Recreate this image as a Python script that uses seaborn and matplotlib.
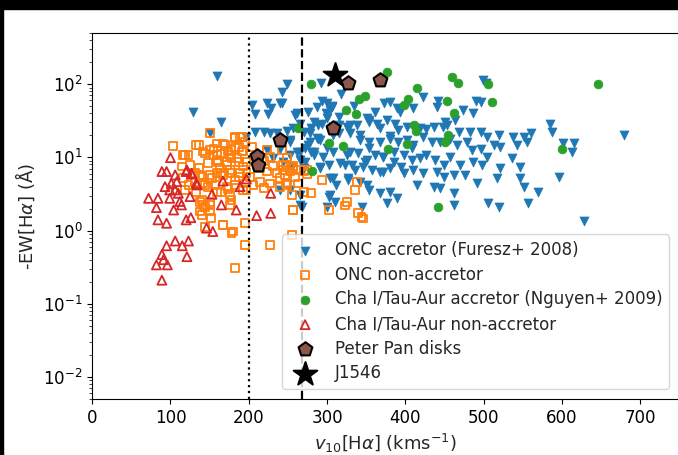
import matplotlib
matplotlib.use("Agg")
import matplotlib.pyplot as plt
from matplotlib.patches import Rectangle
import seaborn as sns

# ONC accretors (Furesz+ 2008)
onc_acc_v = [129, 165, 150, 204, 208, 225, 223, 240, 229, 159, 197, 219, 208, 227, 236, 223, 240, 231, 240,
             259, 276, 257, 280, 287, 276, 280, 253, 261, 244, 265, 268, 253,
             249, 292, 318, 499, 503, 243, 242, 293, 300, 306, 287, 304, 298, 261, 334, 361, 373, 381, 389, 393,
             410, 423, 442, 440, 473, 486, 490, 496, 464, 451, 266, 283, 293, 308, 315, 325, 338, 351, 354, 364,
             376, 387, 402, 419, 427, 437, 448, 453, 468, 483, 496, 504, 519, 538, 551, 560, 585, 587, 679, 253,
             270, 278, 289, 308, 329, 342, 353, 368, 381, 391, 410, 423, 434, 444, 457, 466, 479, 485, 496, 513,
             521, 542, 555, 602, 615, 613, 266, 283, 295, 308, 325, 340, 351, 361, 372, 385, 398, 408, 419, 427,
             438, 449, 457, 470, 487, 498, 504, 521, 536, 547, 255, 270, 291, 302, 317, 332, 346, 357, 368, 381,
             398, 410, 423, 440, 449, 462, 476, 491, 517, 547, 551, 570, 596, 304, 312, 327, 342, 353, 368, 376,
             389, 415, 436, 444, 462, 462, 506, 519, 557, 628, 302, 266, 344, 300,
             306, 300, 315, 289, 278, 291, 315, 329, 353, 342, 368, 381, 391, 402, 283, 300, 329, 353, 372, 385,
             408, 291, 323, 336, 349, 372, 395, 308, 327, 351, 381, 304, 310, 266, 272, 272, 253, 249]
onc_acc_ew = [42, 30.7, 21.3, 52, 38.6, 38.6, 54.6, 54.6, 46.7, 130, 19.2, 22.4, 22, 21.3, 21.3, 12.6, 13.2, 9.7, 3.6,
              37.8, 42, 24.9, 24.9, 18.2, 14.8, 12, 10.8, 12, 8.7, 9.2, 2.12, 3.6,
              102, 105, 73, 113, 105, 79, 54.5, 58, 54.5, 51, 49, 44, 39.8, 39.8, 51, 42, 56, 57, 46.6, 42,
              46.6, 67, 58, 49, 44, 39.8, 58, 57, 32.3, 30.6, 29, 30.6, 29, 26.2, 28, 26.2, 27.6, 34, 30.6, 29,
              32.3, 29, 26.2, 24.8, 24.3, 26.2, 26.2, 27.6, 22.4, 22.4, 22.4, 19.1, 20.1, 19.1, 19.1, 21.2, 29, 22.4, 20, 17.2,
              22.4, 16.3, 18.1, 20.1, 21.2, 20.1, 16.3, 16.3, 18.1, 16.3, 14.7, 19.1, 16.3, 16.3, 18.1, 14.7, 16.3, 12.6, 13.2, 14.7,
              14.0, 14.7, 16.3, 15.5, 15.5, 11.9, 11.9, 10.7, 10.2, 11.9, 10.7, 11.3, 9.2, 10.7, 10.2, 8.7, 10.7, 9.2, 9.7, 10.7,
              9.2, 7.85, 10.2, 7.85, 8.7, 7.85, 10.2, 7.06, 9.7, 7.45, 7.45, 7.06, 7.06, 7.85, 8.3, 7.85, 7.45, 6.7, 6.36, 7.06,
              6.04, 6.7, 6.04, 6.36, 5.44, 5.73, 5.73, 4.4, 5.16, 5.16, 3.97, 3.4, 5.44, 5.16, 4.19, 5.16, 4.65, 3.57, 3.22, 2.35,
              2.75, 4.19, 3.97, 3.77, 3.22, 2.23, 2.35, 2.12, 2.35, 1.35, 2.9, 2.23, 2.12, 2.12,
              49, 34, 35.8, 27.6, 21.3, 17.3, 21.3, 27.6, 32.4, 17.3, 24.9, 19.5, 23.5, 17.3, 12, 13.3, 12, 13.3, 10.2, 12,
              13.3, 7.5, 7.9, 6.7, 8.7, 6.4, 7.5, 5.2, 4.9, 4.2, 3.4, 3.06, 2.46, 3.06, 8.7, 13.3, 16.4, 23]

# ONC non-accretors
onc_non_v = [150, 103, 136, 116, 123, 115, 144, 150, 159, 170, 182, 189, 155, 165, 174, 182, 191, 178, 161, 172,
             187, 193, 131, 140, 150, 159, 167, 178, 187, 197, 142, 148, 133, 118, 131, 157, 165, 174, 182, 193,
             178, 140, 144, 138, 150, 152, 144, 167, 178, 195, 195, 182, 142, 150, 140,
             133, 118, 142, 155, 167, 182, 191, 178, 193, 204, 223, 227, 214, 223, 236, 244, 253, 261, 240, 227,
             214, 202, 189, 176, 163, 138, 116, 144, 159, 176, 197, 138, 150, 176, 167, 180, 227, 257, 255, 270,
             263, 240, 210, 219, 231, 248, 257, 270, 274, 206, 219, 248, 125, 136, 148, 159, 172, 185, 197, 165,
             153, 182, 195, 131, 123, 172, 159, 176, 195, 187,
             242, 249, 244, 257, 246, 259, 270, 274, 249, 255, 257, 280, 293, 302, 325, 323, 338, 336, 340, 344, 346]
onc_non_ew = [21.3, 14.3, 14.8, 10.8, 10.8, 7.5, 11.3, 12.6, 15.5, 14.8, 18.2, 19.2, 10.8, 11.3, 12, 13.3, 12, 9.7, 8.7, 7.9,
              8.7, 7.5, 6.05, 5.46, 5.75, 6.05, 5.75, 6.05, 5.46, 6.05, 4.43, 3.98, 3.4, 3.59, 4.67, 4.2, 3.4, 3.73, 4.2, 3.59,
              2.62, 2.62, 2.12, 1.82, 1.82, 1.47, 1.13, 1.19, 0.92, 1.26, 0.64, 0.31, 2.24, 2.49, 1.64,
              14.8, 10.8, 12, 13.2, 15.5, 19.2, 19.2, 12.6, 12, 14, 12.6, 10.2, 7.1, 6.4, 6.06, 6.7, 6.4, 6.7, 5.2, 4.4,
              4.66, 5.46, 6.06, 6.7, 7.1, 5.75, 5.2, 4.2, 3.4, 3.07, 3.59, 2.49, 2.24, 2.24, 1.2, 0.97, 0.64, 1.91, 0.87, 3.4,
              4.4, 3.9, 8.3, 8.9, 7.6, 8.0, 7.6, 6.8, 6.0, 4.2, 3.8, 4.5, 7.9, 7.1, 8.3, 9.2, 8.7, 9.7, 8.7, 6.06,
              5.2, 4.9, 4.4, 4.66, 4.2, 4.0, 10.8, 10.8, 16.4, 14,
              12.6, 9.7, 7.9, 7.1, 5.75, 5.46, 6.4, 6.7, 4.2, 3.06, 1.92, 3.23, 4.9, 1.92, 2.48, 2.2, 4.66, 3.59, 1.72, 1.55, 1.46]

# Cha I / Tau-Aur accretors (Nguyen+ 2009)
cha_acc_v = [280, 376, 459, 467, 505, 646, 415, 349, 341, 404, 398, 453, 511, 324, 337, 462, 263, 411, 414, 454,
             451, 303, 320, 402, 378, 600, 281, 442]
cha_acc_ew = [100, 145, 126, 104, 100, 100, 90, 68, 63, 63, 52, 59, 57, 44, 39, 40, 25, 28, 23, 20,
              16.4, 15.5, 14.3, 15.4, 13.2, 13.2, 6.6, 2.1]

# Cha I / Tau-Aur non-accretors
cha_non_v = [100, 89, 95, 106, 120, 127, 134, 101, 108, 93, 99, 106, 110, 72, 84, 99, 125, 82, 104, 114,
             112, 84, 95, 120, 126, 146, 154, 167, 153, 165, 184, 197, 189, 210, 228, 228, 95, 106, 115, 123,
             121, 89, 82, 96, 91, 89, 121, 127, 133]
cha_non_ew = [9.9, 6.4, 6.4, 5.75, 6.4, 5.9, 4.2, 4.4, 4.66, 3.98, 3.59, 3.59, 3.23, 2.76, 2.76, 2.76, 2.91, 2.06, 1.91, 2.24,
              2.5, 1.4, 1.26, 1.4, 1.5, 1.08, 0.97, 4.75, 3.13, 2.24, 1.91, 5.07, 3.98, 1.6, 1.72, 3.23, 0.62, 0.72, 0.62, 0.72,
              0.44, 0.47, 0.34, 0.34, 0.4, 0.21, 6.7, 6.05, 4.43]

# Peter Pan disks
pp_v = [327, 368, 307, 240, 211, 212]
pp_ew = [105, 115, 25, 17, 10.5, 7.8]

# J1546
j1546_v = [310]
j1546_ew = [135]

fig = plt.figure(figsize=(6.78, 4.55), dpi=100)
sns.set_style("ticks")
plt.rcParams["font.family"] = ["DejaVu Sans"]
ax = fig.add_axes([0.136, 0.123, 0.866, 0.8045])

sns.scatterplot(x=onc_acc_v, y=onc_acc_ew, marker="v", s=42, color="tab:blue",
                edgecolor="tab:blue", linewidth=0.5, label="ONC accretor (Furesz+ 2008)", ax=ax)
sns.scatterplot(x=onc_non_v, y=onc_non_ew, marker="s", s=32, color="tab:orange",
                facecolor="none", edgecolor="tab:orange", linewidth=1.3, label="ONC non-accretor", ax=ax)
sns.scatterplot(x=cha_acc_v, y=cha_acc_ew, marker="o", s=40, color="tab:green",
                edgecolor="tab:green", linewidth=0.5, label="Cha I/Tau-Aur accretor (Nguyen+ 2009)", ax=ax)
sns.scatterplot(x=cha_non_v, y=cha_non_ew, marker="^", s=42, color="tab:red",
                facecolor="none", edgecolor="tab:red", linewidth=1.3, label="Cha I/Tau-Aur non-accretor", ax=ax)
sns.scatterplot(x=pp_v, y=pp_ew, marker="p", s=110, color="tab:brown",
                edgecolor="black", linewidth=1.5, label="Peter Pan disks", ax=ax)
sns.scatterplot(x=j1546_v, y=j1546_ew, marker="*", s=320, color="black",
                edgecolor="black", label="J1546", ax=ax)

ax.axvline(200, color="black", linestyle=":", linewidth=1.6)
ax.axvline(268, color="black", linestyle="--", linewidth=1.6)

ax.set_yscale("log")
ax.set_xlim(0, 750)
ax.set_ylim(5e-3, 5e2)
ax.set_xticks(range(0, 701, 100))
ax.tick_params(labelsize=12, colors="black")
for sp in ax.spines.values():
    sp.set_color("black")
ax.set_xlabel(r"$v_{10}$[H$\alpha$] (kms$^{-1}$)", fontsize=13)
ax.set_ylabel(r"-EW[H$\alpha$] ($\mathrm{\AA}$)", fontsize=13)
ax.legend(loc="lower right", fontsize=12, labelspacing=0.4, borderaxespad=0.6)

# black screenshot border
fig.add_artist(Rectangle((0, 1 - 9 / 455), 1, 9 / 455, transform=fig.transFigure, color="black"))
fig.add_artist(Rectangle((0, 0), 3 / 678, 1, transform=fig.transFigure, color="black"))

fig.savefig("out.png", dpi=100)
